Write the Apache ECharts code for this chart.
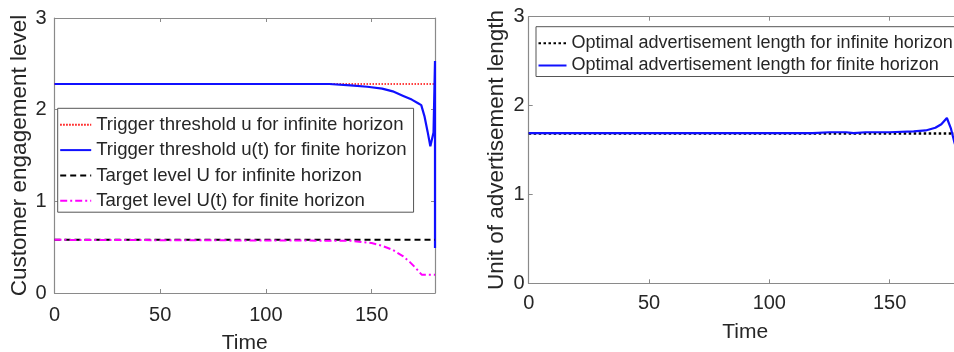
<!DOCTYPE html>
<html><head><meta charset="utf-8">
<script src="https://cdn.jsdelivr.net/npm/echarts@6/dist/echarts.min.js"></script>
<style>html,body{margin:0;padding:0;background:#fff}#c{width:954px;height:352px}</style>
</head><body><div id="c"></div><script>
// ---- shared axis ticks ----
const xTicks = [0, 50, 100, 150];
const yTicks = [0, 1, 2, 3];
const xMax = 180;

// ---- left panel: customer engagement level ----
const uInfT = [0, 180];
const uInf = [2.28, 2.28];
const uFinT = [0, 130, 140, 148, 155, 160, 165, 169, 172, 173.5, 175, 176.5, 177.8, 178.5, 179.3, 180, 180];
const uFin = [2.28, 2.28, 2.265, 2.25, 2.23, 2.20, 2.15, 2.11, 2.07, 2.05, 1.93, 1.76, 1.6, 1.6, 1.75, 2.53, 0.49];
const UInfT = [0, 180];
const UInf = [0.58, 0.58];
const UFinT = [0, 140, 150, 155, 160, 165, 168, 171, 173.7, 180];
const UFin = [0.58, 0.57, 0.545, 0.515, 0.47, 0.40, 0.34, 0.27, 0.2, 0.2];

// ---- right panel: unit of advertisement length ----
const adInfT = [0, 180];
const adInf = [1.687, 1.687];
const adFinT = [0, 118, 125, 132, 135, 140, 150, 160, 165, 169, 171.5, 173.8, 175.5, 177, 180];
const adFin = [1.69, 1.69, 1.70, 1.70, 1.69, 1.70, 1.70, 1.71, 1.72, 1.75, 1.79, 1.86, 1.74, 1.58, 1.3];

const names = {
  uInf: 'Trigger threshold u for infinite horizon',
  uFin: 'Trigger threshold u(t) for finite horizon',
  UInf: 'Target level U for infinite horizon',
  UFin: 'Target level U(t) for finite horizon',
  adInf: 'Optimal advertisement length for infinite horizon',
  adFin: 'Optimal advertisement length for finite horizon'
};

const FONT = '"Liberation Sans", Arial, Helvetica, sans-serif';
const AX = '#8a8a8a';
const TXT = '#262626';
const pairs = (t, v) => t.map((x, i) => [x, v[i]]);

function xAx(grid, labelMargin, nameGap, showLabels, pos) {
  return {
    type: 'value', gridIndex: grid, min: 0, max: xMax, interval: 50, position: pos,
    name: showLabels ? 'Time' : '', nameLocation: 'middle', nameGap: nameGap,
    nameTextStyle: { color: TXT, fontSize: 21, fontFamily: FONT },
    axisLine: { show: true, onZero: false, lineStyle: { color: AX, width: 1.2 } },
    axisTick: { show: true, inside: true, length: 4, lineStyle: { color: AX } },
    splitLine: { show: false },
    axisLabel: { show: showLabels, showMaxLabel: false, color: TXT, fontSize: 20, fontFamily: FONT, margin: labelMargin }
  };
}
function yAx(grid, name, nameSize, nameGap, labelMargin, showLabels, pos) {
  return {
    type: 'value', gridIndex: grid, min: 0, max: 3, interval: 1, position: pos,
    name: name, nameLocation: 'middle', nameGap: nameGap,
    nameTextStyle: { color: TXT, fontSize: nameSize, fontFamily: FONT },
    axisLine: { show: true, onZero: false, lineStyle: { color: AX, width: 1.2 } },
    axisTick: { show: true, inside: true, length: 4, lineStyle: { color: AX } },
    splitLine: { show: false },
    axisLabel: { show: showLabels, color: TXT, fontSize: 20, fontFamily: FONT, margin: labelMargin }
  };
}

const chart = echarts.init(document.getElementById('c'), null, { renderer: 'canvas' });
chart.setOption({
  animation: false,
  backgroundColor: '#ffffff',
  grid: [
    { left: 54.5, width: 380.5, top: 18, height: 275, containLabel: false, outerBoundsMode: 'none' },
    { left: 528.7, width: 433.1, top: 16.7, height: 266.6, containLabel: false, outerBoundsMode: 'none' }
  ],
  xAxis: [
    xAx(0, 12, 40, true, 'bottom'),
    xAx(0, 0, 0, false, 'top'),
    xAx(1, 10, 38, true, 'bottom'),
    xAx(1, 0, 0, false, 'top')
  ],
  yAxis: [
    yAx(0, 'Customer engagement level', 22.5, 23, 8, true, 'left'),
    yAx(0, '', 20, 0, 8, false, 'right'),
    yAx(1, 'Unit of advertisement length', 22.5, 20.5, 4, true, 'left'),
    yAx(1, '', 20, 0, 4, false, 'right')
  ],
  legend: [
    {
      data: [names.uInf, names.uFin, names.UInf, names.UFin],
      orient: 'vertical', left: 57.7, top: 108.3,
      itemWidth: 31, itemHeight: 12, itemGap: 6.3,
      padding: [7, 7, 2, 1.5],
      backgroundColor: '#ffffff', borderColor: '#555555', borderWidth: 1, borderRadius: 0,
      itemStyle: { opacity: 0, borderWidth: 0 },
      textStyle: { color: TXT, fontSize: 18.6, fontFamily: FONT },
      selectedMode: false
    },
    {
      data: [names.adInf, names.adFin],
      orient: 'vertical', left: 536, top: 26.7,
      itemWidth: 28, itemHeight: 12, itemGap: 4.3,
      padding: [7.5, 5, 2, 1.5],
      backgroundColor: '#ffffff', borderColor: '#555555', borderWidth: 1, borderRadius: 0,
      itemStyle: { opacity: 0, borderWidth: 0 },
      textStyle: { color: TXT, fontSize: 18, fontFamily: FONT },
      selectedMode: false
    }
  ],
  series: [
    { name: names.uInf, type: 'line', xAxisIndex: 0, yAxisIndex: 0, data: pairs(uInfT, uInf),
      showSymbol: false, symbol: 'none', color: '#ff0000',
      lineStyle: { color: '#ff0000', width: 1.5, type: [1.5, 1.5] } },
    { name: names.uFin, type: 'line', xAxisIndex: 0, yAxisIndex: 0, data: pairs(uFinT, uFin),
      showSymbol: false, symbol: 'none', color: '#0000ff',
      lineStyle: { color: '#1010ff', width: 2.2, type: 'solid' } },
    { name: names.UInf, type: 'line', xAxisIndex: 0, yAxisIndex: 0, data: pairs(UInfT, UInf),
      showSymbol: false, symbol: 'none', color: '#000000',
      lineStyle: { color: '#000000', width: 2, type: [6, 4] } },
    { name: names.UFin, type: 'line', xAxisIndex: 0, yAxisIndex: 0, data: pairs(UFinT, UFin),
      showSymbol: false, symbol: 'none', color: '#ff00ff',
      lineStyle: { color: '#ff00ff', width: 2, type: [7, 3, 2, 3] } },
    { name: names.adInf, type: 'line', xAxisIndex: 2, yAxisIndex: 2, data: pairs(adInfT, adInf),
      showSymbol: false, symbol: 'none', color: '#000000',
      lineStyle: { color: '#000000', width: 2.5, type: [2.5, 2.5] } },
    { name: names.adFin, type: 'line', xAxisIndex: 2, yAxisIndex: 2, data: pairs(adFinT, adFin),
      showSymbol: false, symbol: 'none', color: '#0000ff',
      lineStyle: { color: '#1010ff', width: 2.2, type: 'solid' } }
  ]
});
</script></body></html>
